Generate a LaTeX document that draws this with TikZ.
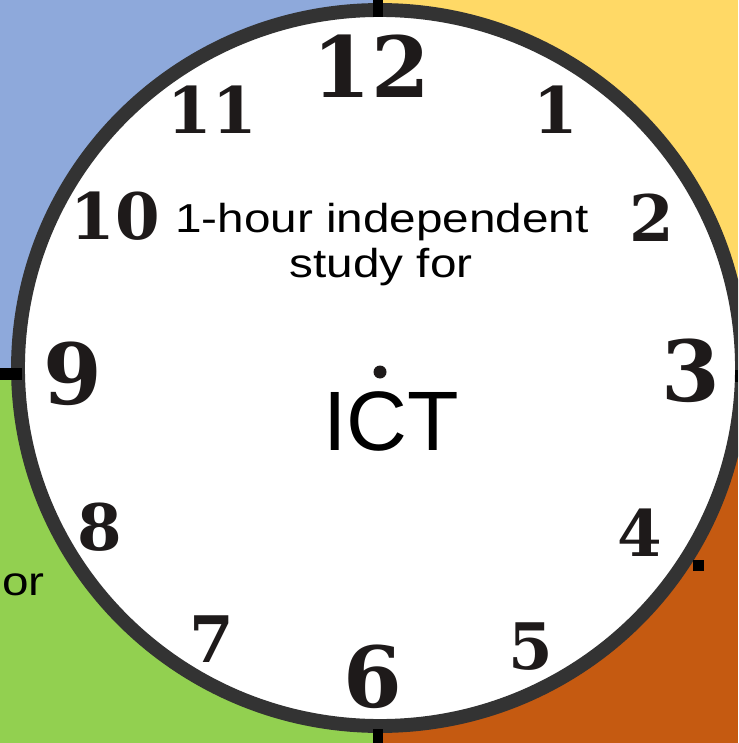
\documentclass[tikz,border=0pt]{standalone}
\usepackage{fontspec}
\setmainfont{Liberation Sans}
\newfontfamily\clockfont{DejaVu Serif}
\definecolor{quadblue}{RGB}{142,169,219}
\definecolor{quadyellow}{RGB}{255,217,102}
\definecolor{quadgreen}{RGB}{146,208,80}
\definecolor{quadorange}{RGB}{197,90,17}
\definecolor{ringgray}{RGB}{51,51,51}
\definecolor{numblack}{RGB}{30,26,26}
\newcommand{\widetext}[1]{\scalebox{1.18}[1]{#1}}

\begin{document}
\begin{tikzpicture}[x=0.02cm, y=-0.02cm]

	% Stile
	\tikzset{
		bignum/.style={font=\clockfont\bfseries\fontsize{48pt}{50pt}\selectfont, text=numblack, inner sep=0pt},
		smallnum/.style={font=\clockfont\bfseries\fontsize{36.5pt}{38pt}\selectfont, text=numblack, inner sep=0pt},
		studytext/.style={font=\fontsize{23pt}{26pt}\selectfont, inner sep=0pt}
	}

	\useasboundingbox (0,0) rectangle (738,743);
	\clip (0,0) rectangle (738,743);

	% Hintergrund in vier Feldern
	\fill[quadblue] (0,0) rectangle (378,374);
	\fill[quadyellow] (378,0) rectangle (738,374);
	\fill[quadgreen] (0,374) rectangle (378,743);
	\fill[quadorange] (378,374) rectangle (738,743);

	% Zifferblatt
	\filldraw[fill=white, draw=ringgray, line width=7.9pt]
	(380,368) ellipse [x radius=362, y radius=358];

	% kleine Striche am Rand
	\fill[black] (373,0) rectangle (383,17);
	\fill[black] (0,368) rectangle (22,380);
	\fill[black] (373,729) rectangle (383,743);
	\fill[black] (735,370) rectangle (738,382);
	\fill[black] (693,560) rectangle (704,571);

	% Ziffern
	\foreach \n/\x/\y/\s in {12/371/66/bignum, 1/556/110/smallnum, 2/652/218/smallnum,
		3/691/371/bignum, 4/640/533/smallnum, 5/531/647/smallnum, 6/373/677/bignum,
		7/212/639/smallnum, 8/100/527/smallnum, 9/73/374/bignum, 10/115/216/smallnum,
		11/212/110/smallnum} {
		\node[\s] (num\n) at (\x,\y) {\n};
	}

	% Mittelpunkt
	\fill[numblack] (380,372) circle (6.5);

	% Texte
	\node[studytext, anchor=base] (studyA) at (382,233) {\widetext{1-hour independent}};
	\node[studytext, anchor=base] (studyB) at (381,277) {\widetext{study for}};
	\node[font=\fontsize{48pt}{50pt}\selectfont, inner sep=0pt, anchor=base] (subject) at (391,450) {ICT};
	\node[studytext, anchor=base west] (leftfor) at (2,595) {\widetext{or}};

\end{tikzpicture}
\end{document}
